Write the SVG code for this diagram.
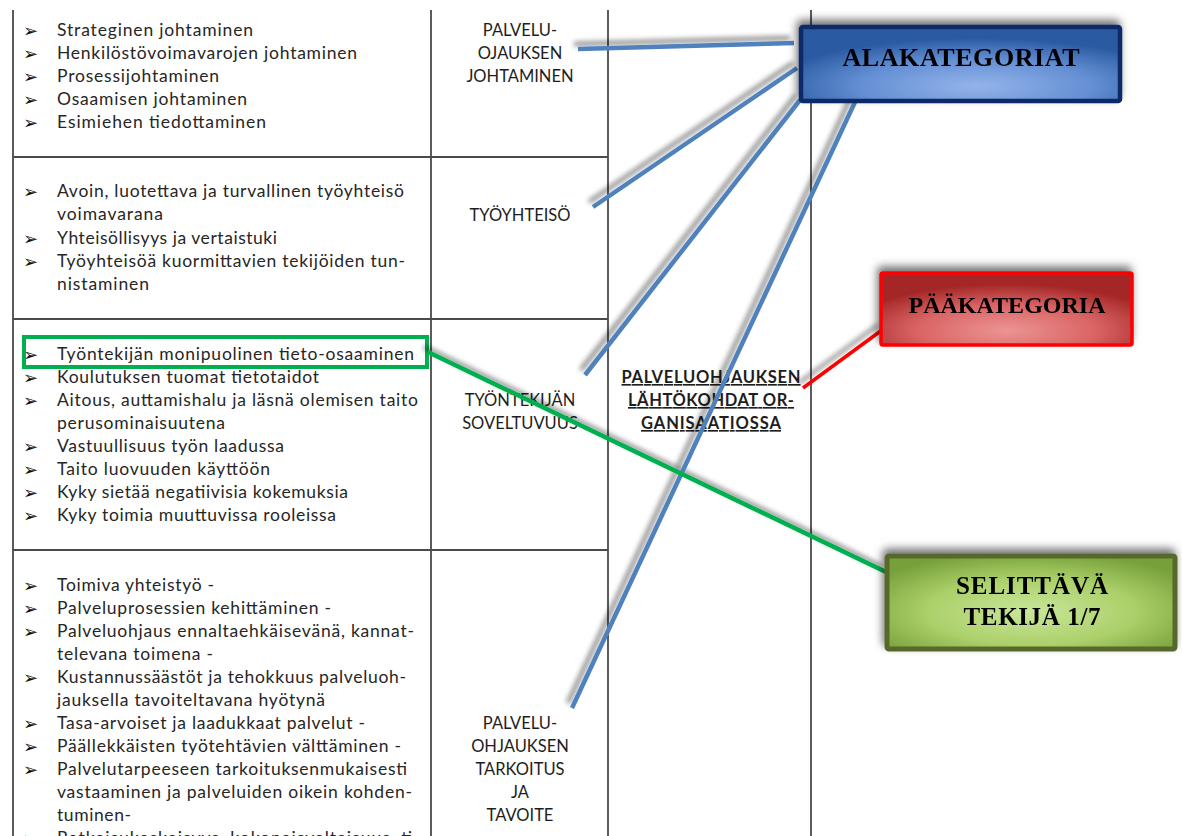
<svg xmlns="http://www.w3.org/2000/svg" width="1182" height="836" viewBox="0 0 1182 836">
  <style>
    .grid { stroke: #4a4a4a; stroke-width: 1.8; fill: none; }
    .item { font-family: Lato, "Liberation Sans", sans-serif; font-size: 17.5px; fill: #262626; }
    .bul { font-family: "DejaVu Sans", sans-serif; font-size: 18px; font-weight: bold; fill: #111; }
    .cat { font-family: Lato, "Liberation Sans", sans-serif; font-size: 16.5px; fill: #1e1e1e; text-anchor: middle; }
    .main { font-family: Lato, "Liberation Sans", sans-serif; font-size: 16.5px; font-weight: bold; fill: #1e1e1e; text-anchor: middle; text-decoration: underline; }
    .lbl { font-family: "Liberation Serif", "Times New Roman", serif; font-weight: bold; fill: #000; text-anchor: middle; }
    .blue { stroke: #4f81bd; stroke-width: 4.5; fill: none; }
    .green { stroke: #00b050; stroke-width: 4.5; fill: none; }
    .red { stroke: #ff0000; stroke-width: 3.5; fill: none; }
  </style>
  <defs>
    <filter id="lineShadow" x="-20%" y="-20%" width="140%" height="140%">
      <feDropShadow dx="-4" dy="-5" stdDeviation="2.5" flood-color="#000" flood-opacity="0.45"/>
    </filter>
    <filter id="boxShadow" x="-20%" y="-40%" width="140%" height="180%">
      <feDropShadow dx="-2" dy="-5" stdDeviation="4" flood-color="#000" flood-opacity="0.55"/>
    </filter>
    <radialGradient id="gBlue" cx="0.55" cy="0.8" r="0.65">
      <stop offset="0" stop-color="#94b4ea"/>
      <stop offset="0.55" stop-color="#6590d4"/>
      <stop offset="1" stop-color="#2a5aa2"/>
    </radialGradient>
    <radialGradient id="gRed" cx="0.5" cy="0.8" r="0.65">
      <stop offset="0" stop-color="#ec9494"/>
      <stop offset="0.55" stop-color="#d96464"/>
      <stop offset="1" stop-color="#a42626"/>
    </radialGradient>
    <radialGradient id="gGreen" cx="0.5" cy="0.6" r="0.65">
      <stop offset="0" stop-color="#c9e69a"/>
      <stop offset="0.55" stop-color="#acd06a"/>
      <stop offset="1" stop-color="#76a03a"/>
    </radialGradient>
  </defs>

  <rect width="1182" height="836" fill="#ffffff"/>

  <!-- table grid -->
  <g id="table">
    <line class="grid" x1="13" y1="10" x2="13" y2="836"/>
    <line class="grid" x1="431" y1="10" x2="431" y2="836"/>
    <line class="grid" x1="608" y1="10" x2="608" y2="836"/>
    <line class="grid" x1="811" y1="10" x2="811" y2="836"/>
    <line class="grid" x1="13" y1="157" x2="608" y2="157"/>
    <line class="grid" x1="13" y1="319" x2="608" y2="319"/>
    <line class="grid" x1="13" y1="550" x2="608" y2="550"/>
  </g>

  <!-- row 1 -->
  <g id="row-johtaminen">
    <text class="bul" x="23" y="37">➢</text>
    <text class="bul" x="23" y="60">➢</text>
    <text class="bul" x="23" y="83">➢</text>
    <text class="bul" x="23" y="106">➢</text>
    <text class="bul" x="23" y="129">➢</text>
    <text class="item" x="57" y="36" textLength="196">Strateginen johtaminen</text>
    <text class="item" x="57" y="59" textLength="300">Henkilöstövoimavarojen johtaminen</text>
    <text class="item" x="57" y="82" textLength="162">Prosessijohtaminen</text>
    <text class="item" x="57" y="105" textLength="190">Osaamisen johtaminen</text>
    <text class="item" x="57" y="128" textLength="209">Esimiehen tiedottaminen</text>
    <text class="cat" x="520" y="36">PALVELU-</text>
    <text class="cat" x="520" y="59">OJAUKSEN</text>
    <text class="cat" x="520" y="82">JOHTAMINEN</text>
  </g>

  <!-- row 2 -->
  <g id="row-tyoyhteiso">
    <text class="bul" x="23" y="198">➢</text>
    <text class="bul" x="23" y="245">➢</text>
    <text class="bul" x="23" y="268">➢</text>
    <text class="item" x="57" y="197" textLength="347">Avoin, luotettava ja turvallinen työyhteisö</text>
    <text class="item" x="57" y="220" textLength="106">voimavarana</text>
    <text class="item" x="57" y="244" textLength="220">Yhteisöllisyys ja vertaistuki</text>
    <text class="item" x="57" y="267" textLength="348">Työyhteisöä kuormittavien tekijöiden tun-</text>
    <text class="item" x="57" y="290" textLength="92">nistaminen</text>
    <text class="cat" x="520" y="221">TYÖYHTEISÖ</text>
  </g>

  <!-- row 3 -->
  <g id="row-soveltuvuus">
    <text class="bul" x="23" y="361">➢</text>
    <text class="bul" x="23" y="384">➢</text>
    <text class="bul" x="23" y="407">➢</text>
    <text class="bul" x="23" y="453">➢</text>
    <text class="bul" x="23" y="476">➢</text>
    <text class="bul" x="23" y="499">➢</text>
    <text class="bul" x="23" y="522">➢</text>
    <text class="item" x="57" y="360" textLength="357">Työntekijän monipuolinen tieto-osaaminen</text>
    <text class="item" x="57" y="383" textLength="262">Koulutuksen tuomat tietotaidot</text>
    <text class="item" x="57" y="406" textLength="361">Aitous, auttamishalu ja läsnä olemisen taito</text>
    <text class="item" x="57" y="429" textLength="168">perusominaisuutena</text>
    <text class="item" x="57" y="452" textLength="227">Vastuullisuus työn laadussa</text>
    <text class="item" x="57" y="475" textLength="213">Taito luovuuden käyttöön</text>
    <text class="item" x="57" y="498" textLength="291">Kyky sietää negatiivisia kokemuksia</text>
    <text class="item" x="57" y="521" textLength="279">Kyky toimia muuttuvissa rooleissa</text>
    <text class="cat" x="520" y="406">TYÖNTEKIJÄN</text>
    <text class="cat" x="520" y="429">SOVELTUVUUS</text>
  </g>

  <!-- row 4 -->
  <g id="row-tarkoitus">
    <text class="bul" x="23" y="592">➢</text>
    <text class="bul" x="23" y="615">➢</text>
    <text class="bul" x="23" y="638">➢</text>
    <text class="bul" x="23" y="684">➢</text>
    <text class="bul" x="23" y="730">➢</text>
    <text class="bul" x="23" y="753">➢</text>
    <text class="bul" x="23" y="776">➢</text>
    <text class="bul" x="23" y="845">➢</text>
    <text class="item" x="57" y="591" textLength="157">Toimiva yhteistyö -</text>
    <text class="item" x="57" y="614" textLength="274">Palveluprosessien kehittäminen -</text>
    <text class="item" x="57" y="637" textLength="357">Palveluohjaus ennaltaehkäisevänä, kannat-</text>
    <text class="item" x="57" y="660" textLength="156">televana toimena -</text>
    <text class="item" x="57" y="683" textLength="349">Kustannussäästöt ja tehokkuus palveluoh-</text>
    <text class="item" x="57" y="706" textLength="268">jauksella tavoiteltavana hyötynä</text>
    <text class="item" x="57" y="729" textLength="308">Tasa-arvoiset ja laadukkaat palvelut -</text>
    <text class="item" x="57" y="752" textLength="344">Päällekkäisten työtehtävien välttäminen -</text>
    <text class="item" x="57" y="775" textLength="350">Palvelutarpeeseen tarkoituksenmukaisesti</text>
    <text class="item" x="57" y="798" textLength="355">vastaaminen ja palveluiden oikein kohden-</text>
    <text class="item" x="57" y="821" textLength="74">tuminen-</text>
    <text class="item" x="57" y="844" textLength="355">Ratkaisukeskeisyys, kokonaisvaltaisuus, ti</text>
    <text class="cat" x="520" y="729">PALVELU-</text>
    <text class="cat" x="520" y="752">OHJAUKSEN</text>
    <text class="cat" x="520" y="775">TARKOITUS</text>
    <text class="cat" x="520" y="798">JA</text>
    <text class="cat" x="520" y="821">TAVOITE</text>
  </g>

  <!-- main category cell -->
  <g id="main-category-cell">
    <text class="main" x="711" y="383" textLength="179">PALVELUOHJAUKSEN</text>
    <text class="main" x="711" y="406" textLength="166">LÄHTÖKOHDAT OR-</text>
    <text class="main" x="711" y="429" textLength="140">GANISAATIOSSA</text>
  </g>

  <!-- highlight frame around the explaining factor -->
  <g id="highlight">
    <rect x="24" y="337" width="403" height="30" fill="none" stroke="#00b050" stroke-width="4"/>
  </g>

  <!-- connectors -->
  <g id="connectors" filter="url(#lineShadow)">
    <line class="blue" x1="578" y1="49" x2="794" y2="43"/>
    <line class="blue" x1="593" y1="207" x2="797" y2="68"/>
    <line class="blue" x1="585" y1="375" x2="800" y2="100"/>
    <line class="blue" x1="855" y1="102" x2="572" y2="708"/>
    <line class="red" x1="803" y1="388" x2="882" y2="330"/>
    <line class="green" x1="428" y1="352" x2="886" y2="572"/>
  </g>

  <!-- label boxes -->
  <g id="alakategoriat" filter="url(#boxShadow)">
    <rect x="801" y="27" width="319" height="74" rx="2" fill="url(#gBlue)" stroke="#0c2a66" stroke-width="4.5"/>
    <text class="lbl" x="961" y="66" font-size="26" textLength="237">ALAKATEGORIAT</text>
  </g>
  <g id="paakategoria" filter="url(#boxShadow)">
    <rect x="881" y="273" width="251" height="72" rx="2" fill="url(#gRed)" stroke="#ff0000" stroke-width="3.5"/>
    <text class="lbl" x="1007" y="313" font-size="24" textLength="197">PÄÄKATEGORIA</text>
  </g>
  <g id="selittava-tekija" filter="url(#boxShadow)">
    <rect x="887" y="556" width="288" height="93" rx="2" fill="url(#gGreen)" stroke="#56692c" stroke-width="5"/>
    <text class="lbl" x="1032" y="594" font-size="25" textLength="152">SELITTÄVÄ</text>
    <text class="lbl" x="1032" y="625" font-size="25" textLength="137">TEKIJÄ 1/7</text>
  </g>
</svg>
